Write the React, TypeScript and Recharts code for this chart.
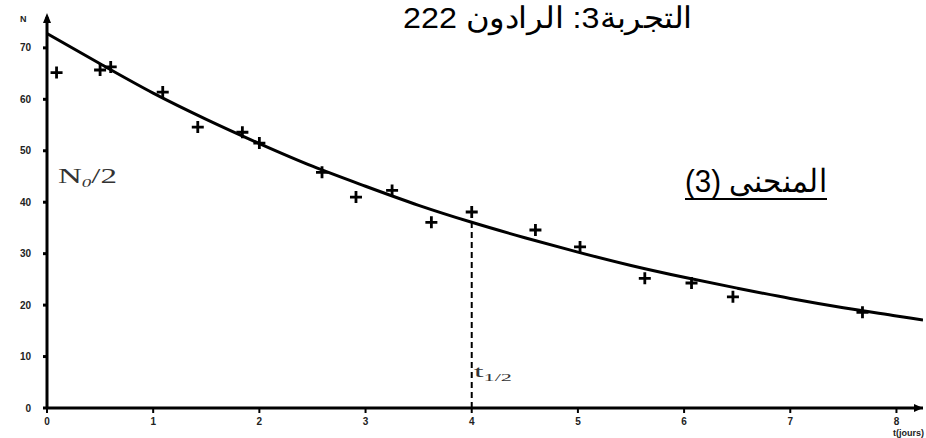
import React from "react";
import { ComposedChart, Line, Scatter, XAxis, YAxis, ReferenceLine, ReferenceDot } from "recharts";

// smooth decay curve, sampled every half day
const curveT = [0, 0.5, 1, 1.5, 2, 2.5, 3, 3.5, 4, 4.5, 5, 5.5, 6, 6.5, 7, 7.5, 8, 8.25];
const curveN = [72.8, 66.9, 61.2, 56.1, 51.4, 47.0, 43.1, 39.4, 36.1, 33.1, 30.3, 27.7, 25.4, 23.3, 21.3, 19.5, 17.9, 17.1];

// measured counts
const measT = [0.09, 0.5, 0.6, 1.09, 1.42, 1.84, 2.0, 2.59, 2.91, 3.25, 3.62, 4.0, 4.6, 5.02, 5.63, 6.07, 6.46, 7.68];
const measN = [65.2, 65.7, 66.3, 61.4, 54.6, 53.6, 51.5, 45.8, 41.0, 42.3, 36.1, 38.1, 34.6, 31.3, 25.2, 24.3, 21.6, 18.6];

const xTicks = [0, 1, 2, 3, 4, 5, 6, 7, 8];
const yTicks = [0, 10, 20, 30, 40, 50, 60, 70];

const halfLife = 4;
const halfN = 36.1;

const curve = curveT.map((t, i) => ({ t, n: curveN[i] }));
const points = measT.map((t, i) => ({ t, n: measN[i] }));

const Cross = (props: any) => {
  const { cx, cy } = props;
  return (
    <path
      d={`M${cx - 6},${cy}H${cx + 6}M${cx},${cy - 6}V${cy + 6}`}
      stroke="#000"
      strokeWidth={2.8}
      fill="none"
    />
  );
};

const ArrowUp = (props: any) => {
  const { cx, cy } = props;
  return <path d={`M${cx},${cy - 4}L${cx - 4},${cy + 6}L${cx + 4},${cy + 6}Z`} fill="#000" />;
};

const ArrowRight = (props: any) => {
  const { cx, cy } = props;
  return <path d={`M${cx},${cy}L${cx - 9},${cy - 4}L${cx - 9},${cy + 4}Z`} fill="#000" />;
};

const tickStyle = { fontSize: 10, fill: "#222", fontFamily: "Liberation Sans", fontWeight: 700 };

export default function App() {
  return (
    <div style={{ position: "absolute", left: 0, top: 0, width: 926, height: 438, background: "#fff" }}>
      <ComposedChart width={926} height={438} margin={{ top: 17, right: 3, left: 0, bottom: 0 }}>
        <XAxis
          type="number"
          dataKey="t"
          domain={[0, 8.25]}
          ticks={xTicks}
          allowDataOverflow
          height={30}
          axisLine={{ stroke: "#000", strokeWidth: 3 }}
          tickLine={{ stroke: "#000", strokeWidth: 2 }}
          tickSize={5}
          tickMargin={5}
          tick={tickStyle}
        />
        <YAxis
          type="number"
          dataKey="n"
          domain={[0, 76]}
          ticks={yTicks}
          allowDataOverflow
          width={47}
          axisLine={{ stroke: "#000", strokeWidth: 3 }}
          tickLine={{ stroke: "#000", strokeWidth: 3 }}
          tickSize={4}
          tickMargin={12}
          tick={tickStyle}
        />
        <ReferenceLine
          segment={[{ x: halfLife, y: 0 }, { x: halfLife, y: halfN }]}
          stroke="#000"
          strokeWidth={2}
          strokeDasharray="6 4"
        />
        <Line
          data={curve}
          dataKey="n"
          type="monotone"
          stroke="#000"
          strokeWidth={3}
          dot={false}
          isAnimationActive={false}
        />
        <Scatter data={points} dataKey="n" shape={<Cross />} isAnimationActive={false} />
        <ReferenceDot x={0} y={76} ifOverflow="visible" shape={<ArrowUp />} />
        <ReferenceDot x={8.25} y={0} ifOverflow="visible" shape={<ArrowRight />} />
      </ComposedChart>

      {/* titles and annotations */}
      <svg width={926} height={438} style={{ position: "absolute", left: 0, top: 0, pointerEvents: "none" }}>
        <text x={20} y={22} fontSize={9} fontFamily="Liberation Sans" fontWeight={700} fill="#222">N</text>
        <text x={924} y={436} fontSize={9} fontFamily="Liberation Sans" fontWeight={700} fill="#222" textAnchor="end">t(jours)</text>

        <text
          x={547.5}
          y={28}
          direction="rtl"
          textAnchor="middle"
          fontSize={30}
          fontFamily="Liberation Sans"
          fill="#000"
          textLength={289}
          lengthAdjust="spacingAndGlyphs"
        >
          التجربة3: الرادون 222
        </text>

        <text
          x={756}
          y={192}
          direction="rtl"
          textAnchor="middle"
          fontSize={32}
          fontFamily="Liberation Sans"
          fill="#000"
          textLength={142}
          lengthAdjust="spacingAndGlyphs"
        >
          المنحنى (3)
        </text>
        <line x1={685} y1={199} x2={827} y2={199} stroke="#000" strokeWidth={2} />

        <text x={58} y={183} fontSize={21} fontFamily="Liberation Serif" fill="#333" textLength={59} lengthAdjust="spacingAndGlyphs">
          N<tspan fontSize={12} fontStyle="italic" dy={4}>0</tspan><tspan dy={-4}>/2</tspan>
        </text>

        <text x={474} y={377} fontSize={17} fontFamily="Liberation Serif" fill="#333" textLength={38} lengthAdjust="spacingAndGlyphs">
          t<tspan fontSize={11} dy={4}>1/2</tspan>
        </text>
      </svg>
    </div>
  );
}
